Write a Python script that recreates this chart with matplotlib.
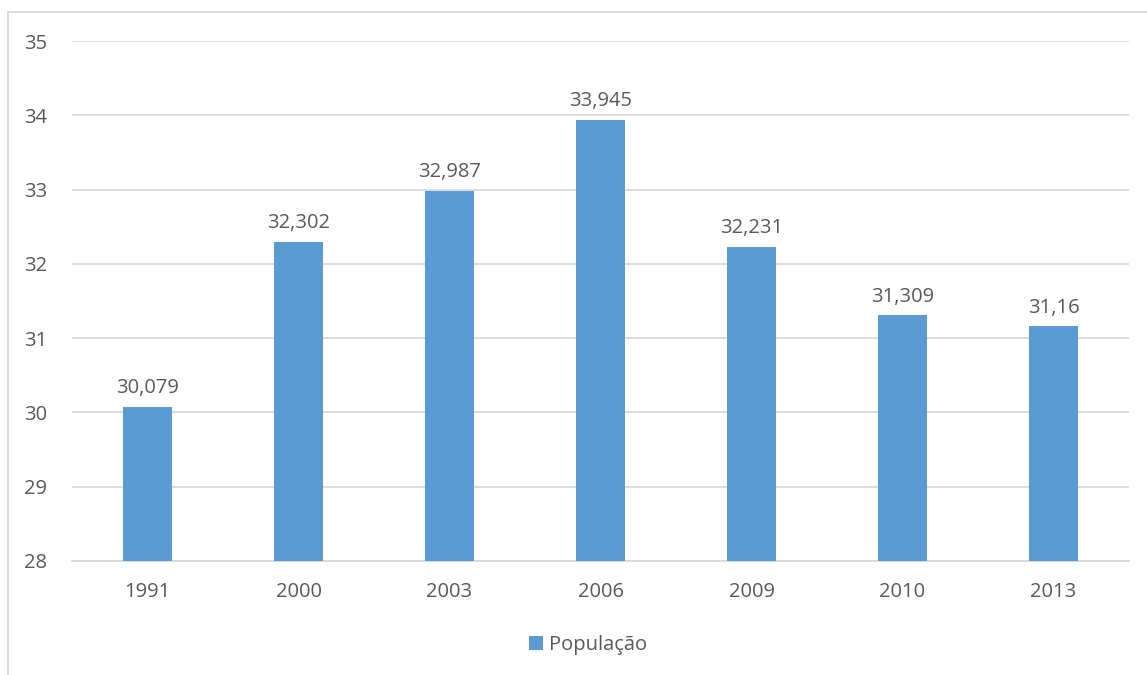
import matplotlib.pyplot as plt
from matplotlib.lines import Line2D

plt.rcParams['font.family'] = ['Open Sans', 'DejaVu Sans']

years = ['1991', '2000', '2003', '2006', '2009', '2010', '2013']
populacao = [30.079, 32.302, 32.987, 33.945, 32.231, 31.309, 31.16]
labels = ['30,079', '32,302', '32,987', '33,945', '32,231', '31,309', '31,16']

bar_color = '#5b9bd5'
text_color = '#595959'
grid_color = '#d9d9d9'
fs = 14.5

fig = plt.figure(figsize=(11.47, 6.75), dpi=100)
ax = fig.add_axes([0.0628, 0.169, 0.9215, 0.770])

x = range(len(years))
bars = ax.bar(x, populacao, width=0.32, color=bar_color, label='População', zorder=3)

for b, lab in zip(bars, labels):
    ax.annotate(lab, (b.get_x() + b.get_width() / 2, b.get_height()),
                xytext=(0, 6), textcoords='offset points',
                ha='center', va='bottom', fontsize=fs, color=text_color)

ax.set_ylim(28, 35)
ax.set_xlim(-0.5, len(years) - 0.5)
ax.set_xticks(list(x))
ax.set_xticklabels(years)
ax.set_yticks(range(28, 36))
ax.tick_params(axis='both', length=0, labelsize=fs, labelcolor=text_color)
ax.tick_params(axis='y', pad=18)
ax.tick_params(axis='x', pad=15)
ax.grid(axis='y', color=grid_color, linewidth=1.3, zorder=0)
for s in ['top', 'right', 'left']:
    ax.spines[s].set_visible(False)
ax.spines['bottom'].set_color(grid_color)
ax.spines['bottom'].set_linewidth(1.3)

# chart border (cropped in the original)
fig.add_artist(Line2D([8 / 1147, 1.0], [1 - 12 / 675, 1 - 12 / 675],
                      transform=fig.transFigure, color=grid_color, linewidth=1.3))
fig.add_artist(Line2D([8 / 1147, 8 / 1147], [0.0, 1 - 12 / 675],
                      transform=fig.transFigure, color=grid_color, linewidth=1.3))

fig.legend(loc='center', bbox_to_anchor=(0.513, 1 - 645 / 675), frameon=False,
           fontsize=fs, labelcolor=text_color, handlelength=0.7, handleheight=0.7,
           handletextpad=0.3)

fig.savefig('out.png', dpi=100)
